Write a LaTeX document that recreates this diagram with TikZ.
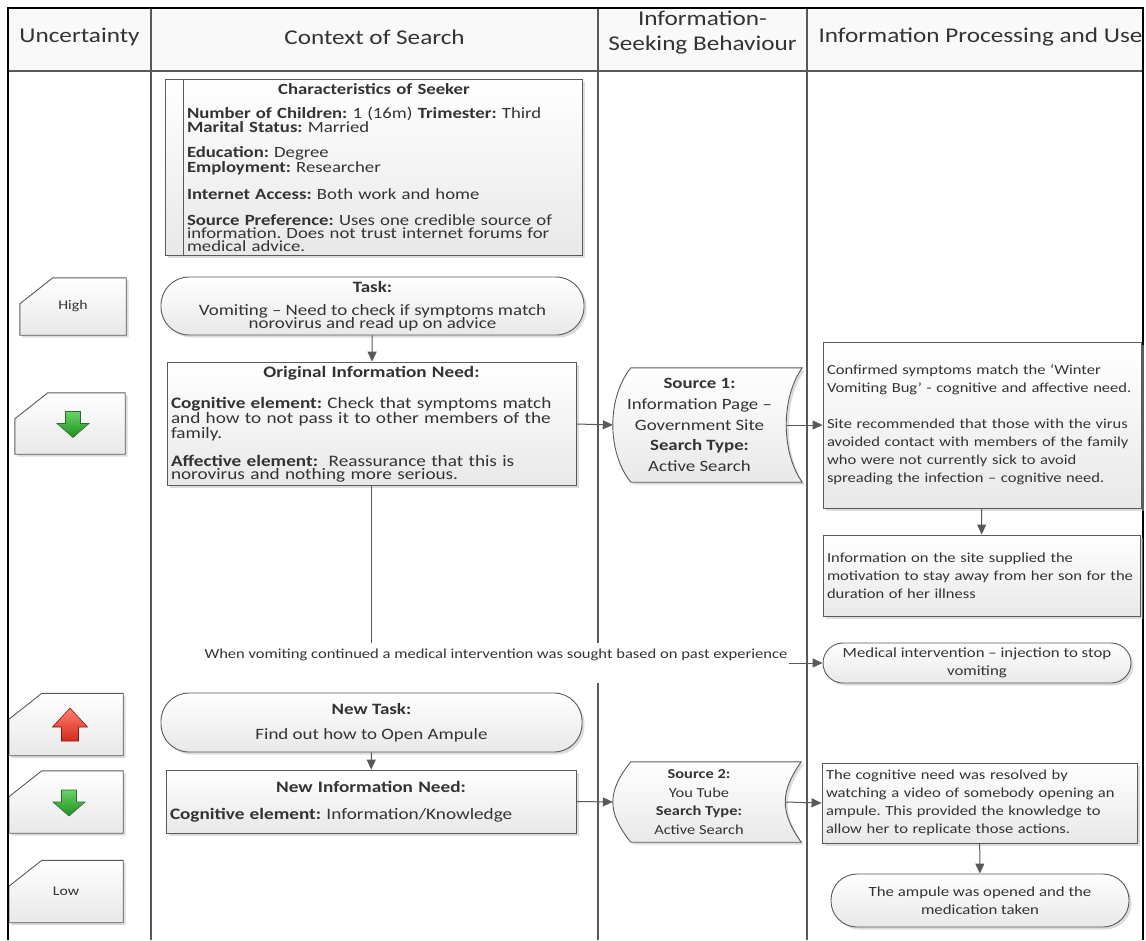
\documentclass[tikz,border=0pt]{standalone}
\usepackage{fontspec}
\setmainfont{Carlito}[FakeStretch=1.2]
\usetikzlibrary{arrows.meta,positioning,calc,shadows,backgrounds}
\frenchspacing
\setlength{\lineskiplimit}{-100pt}

\definecolor{lanegray}{HTML}{595959}
\definecolor{boxline}{HTML}{5A5A5A}
\definecolor{txtgray}{HTML}{333333}
\definecolor{fallhi}{HTML}{66D466}
\definecolor{falllo}{HTML}{1F8F1F}
\definecolor{fallrim}{HTML}{2D6B2D}
\definecolor{risehi}{HTML}{FF8070}
\definecolor{riselo}{HTML}{D42A1A}
\definecolor{riserim}{HTML}{8A1A10}

% block arrows inside the uncertainty boxes
\newcommand{\fallarrow}[1]{\path[fallshade] ($(#1)+(-4.5,-12)$) -- ++(15,0) -- ++(0,12) -- ++(8.5,0) -- ++(-16,14) -- ++(-16,-14) -- ++(8.5,0) -- cycle;}
\newcommand{\risearrow}[1]{\path[riseshade] ($(#1)+(-4.5,16.5)$) -- ++(17,0) -- ++(0,-14) -- ++(9,0) -- ++(-17.5,-19) -- ++(-17.5,19) -- ++(9,0) -- cycle;}

\begin{document}
\begin{tikzpicture}[x=1pt,y=-1pt,>={Triangle[length=10pt,width=9pt]},
  lane/.style={draw=lanegray,line width=1.4pt},
  frame/.style={draw=black,line width=2pt},
  softfill/.style={top color=white,bottom color=gray!18,
    drop shadow={shadow xshift=2.5pt,shadow yshift=-2.5pt,fill=gray!55,opacity=.5}},
  boxrim/.style={draw=boxline,line width=.9pt},
  headtext/.style={font=\fontsize{21}{25}\selectfont,text=txtgray,align=center},
  needbox/.style={rectangle,boxrim,softfill,align=left,inner sep=4pt,text=txtgray,
    font=\fontsize{16}{12.5}\selectfont},
  taskbox/.style={rectangle,rounded corners=28pt,boxrim,softfill,align=center,text=txtgray,
    font=\fontsize{15.8}{13}\selectfont},
  resultbox/.style={rectangle,boxrim,softfill,align=left,inner xsep=4pt,inner ysep=5pt,text=txtgray,
    font=\fontsize{13.8}{18}\selectfont},
  outcomebox/.style={rectangle,rounded corners=20pt,boxrim,softfill,align=center,text=txtgray,
    font=\fontsize{14}{18.5}\selectfont},
  sourcebox/.style={draw=none,align=center,inner sep=2pt,text=txtgray},
  levelbox/.style={draw=none,minimum width=114pt,minimum height=62pt,text=txtgray,
    font=\fontsize{13.2}{15}\selectfont},
  conn/.style={draw=lanegray,line width=1pt},
  connlabel/.style={fill=white,text=txtgray,font=\fontsize{13.8}{16}\selectfont,
    text height=10pt,text depth=20pt,inner xsep=2pt,inner ysep=5pt},
  fallshade/.style={top color=fallhi,bottom color=falllo,draw=fallrim,line width=.6pt},
  riseshade/.style={top color=risehi,bottom color=riselo,draw=riserim,line width=.6pt}]

\useasboundingbox (0,0) rectangle (1146,940);

% swimlane headers
\fill[gray!5] (8,8) rectangle (1143,71);
\node[headtext] (hdunc) at (79.5,37) {Uncertainty};
\node[headtext] (hdctx) at (374.5,37) {Context of Search};
\node[headtext] (hdseek) at (702.5,33) {Information-\\Seeking Behaviour};
\node[headtext,anchor=west] (hduse) at (815,37) {Information Processing and Use};

\draw[lane] (8,71) -- (1143,71);
\foreach \x in {151,598,807}
  \draw[lane] (\x,8) -- (\x,940);
\draw[frame] (8,940) -- (8,8) -- (1143,8) -- (1143,940);

% uncertainty column
\node[levelbox,minimum width=106pt,minimum height=57pt] (high) at (73,306.5) {High};
\node[levelbox,minimum width=110pt,minimum height=61pt] (fall1) at (70,423.5) {};
\node[levelbox] (rise) at (66,724.5) {};
\node[levelbox] (fall2) at (66,802) {};
\node[levelbox] (low) at (66,891.5) {Low};

% context of search
\node[draw=none,text width=392pt,inner xsep=3pt,minimum height=175pt,align=left,text=txtgray,
  font=\fontsize{15.6}{13}\selectfont] (seeker) at (383,167.5)
  {\makebox[\hsize]{\hspace{-18pt}\textbf{Characteristics of Seeker}}\\[11pt]
   \textbf{Number of Children:} 1 (16m) \textbf{Trimester:} Third\\
   \textbf{Marital Status:} Married\\[12pt]
   \textbf{Education:} Degree\\
   \textbf{Employment:} Researcher\\[13pt]
   \textbf{Internet Access:} Both work and home\\[13pt]
   \textbf{Source Preference:} Uses one credible source of\\
   information. Does not trust internet forums for\\
   medical advice.};

\node[taskbox,minimum width=423pt,minimum height=58pt] (task) at (372.5,306)
  {\textbf{Task:}\\[10pt]
   Vomiting – Need to check if symptoms match\\
   norovirus and read up on advice};

\node[needbox,text width=401pt,minimum height=114pt] (orig) at (371.5,424)
  {\makebox[\hsize]{\textbf{Original Information Need:}}\\[16.5pt]
   \textbf{Cognitive element:} Check that symptoms match\\
   and how to not pass it to other members of the\\
   family.\\[13.5pt]
   \textbf{Affective element:}\ \ Reassurance that this is\\
   norovirus and nothing more serious.};

\node[taskbox,minimum width=421pt,minimum height=59pt] (newtask) at (371.5,722.5)
  {\textbf{New Task:}\\[12pt]
   Find out how to Open Ampule};

\node[needbox,text width=402pt,minimum height=63pt] (newneed) at (371,801.5)
  {\makebox[\hsize]{\textbf{New Information Need:}}\\[14.5pt]
   \textbf{Cognitive element:} Information/Knowledge};

% information-seeking behaviour
\node[sourcebox,minimum width=173pt,minimum height=114pt,
  font=\fontsize{15.7}{20.75}\selectfont] (src1) at (699.5,425)
  {\textbf{Source 1:}\\ Information Page –\\ Government Site\\
   \textbf{Search Type:}\\ Active Search};
\node[sourcebox,minimum width=172pt,minimum height=80pt,
  font=\fontsize{13.7}{18.4}\selectfont] (src2) at (699,802)
  {\textbf{Source 2:}\\ You Tube\\ \textbf{Search Type:}\\ Active Search};

% information processing and use
\node[resultbox,text width=310pt,minimum height=166pt] (res1) at (982,425)
  {Confirmed symptoms match the ‘Winter\\
   Vomiting Bug’ - cognitive and affective need.\\[18pt]
   Site recommended that those with the virus\\
   avoided contact with members of the family\\
   who were not currently sick to avoid\\
   spreading the infection – cognitive need.};
\node[resultbox,text width=309pt,minimum height=81pt] (res2) at (981.5,575.5)
  {Information on the site supplied the\\
   motivation to stay away from her son for the\\
   duration of her illness};
\node[outcomebox,minimum width=308pt,minimum height=40pt] (med) at (977,663)
  {Medical intervention – injection to stop\\ vomiting};
\node[resultbox,text width=307pt,minimum height=80pt] (res3) at (979.5,803)
  {The cognitive need was resolved by\\
   watching a video of somebody opening an\\
   ampule. This provided the knowledge to\\
   allow her to replicate those actions.};
\node[outcomebox,rounded corners=26pt,minimum width=298pt,minimum height=53pt] (done) at (980,900.5)
  {The ampule was opened and the\\ medication taken};

% shapes drawn behind their texts
\begin{scope}[on background layer]
  \path[boxrim,softfill] ($(seeker.north west)+(-18,0)$) rectangle (seeker.south east);
  \draw[boxline,line width=.9pt] (seeker.north west) -- (seeker.south west);
  \foreach \n in {high,fall1,rise,fall2,low}
    \path[boxrim,softfill] ($(\n.north west)+(33,0)$) -- (\n.north east) -- (\n.south east)
      -- (\n.south west) -- ($(\n.north west)+(0,26)$) -- cycle;
  \foreach \n in {src1,src2}
    \path[boxrim,softfill] ($(\n.north west)+(18,0)$) -- ($(\n.north east)+(16,0)$)
      .. controls ($(\n.north east)+(-5.3,30)$) and ($(\n.south east)+(-5.3,-30)$) .. ($(\n.south east)+(16,0)$)
      -- ($(\n.south west)+(18,0)$)
      .. controls ($(\n.south west)+(-6,-30)$) and ($(\n.north west)+(-6,30)$) .. cycle;
\end{scope}

\fallarrow{fall1}
\risearrow{rise}
\fallarrow{fall2}

% connectors
\foreach \from/\to in {task/orig,res1/res2,newtask/newneed,res3/done}
  \draw[conn,->] (\from) -- (\to);
\foreach \from/\to in {orig/src1,src1/res1,newneed/src2,src2/res3}
  \draw[conn,->] (\from.east) -- (\to.west);
\draw[conn,->] (orig.south) |- node[connlabel,pos=.638] (medlbl)
  {When vomiting continued a medical intervention was sought based on past experience} (med.west);
\end{tikzpicture}
\end{document}
